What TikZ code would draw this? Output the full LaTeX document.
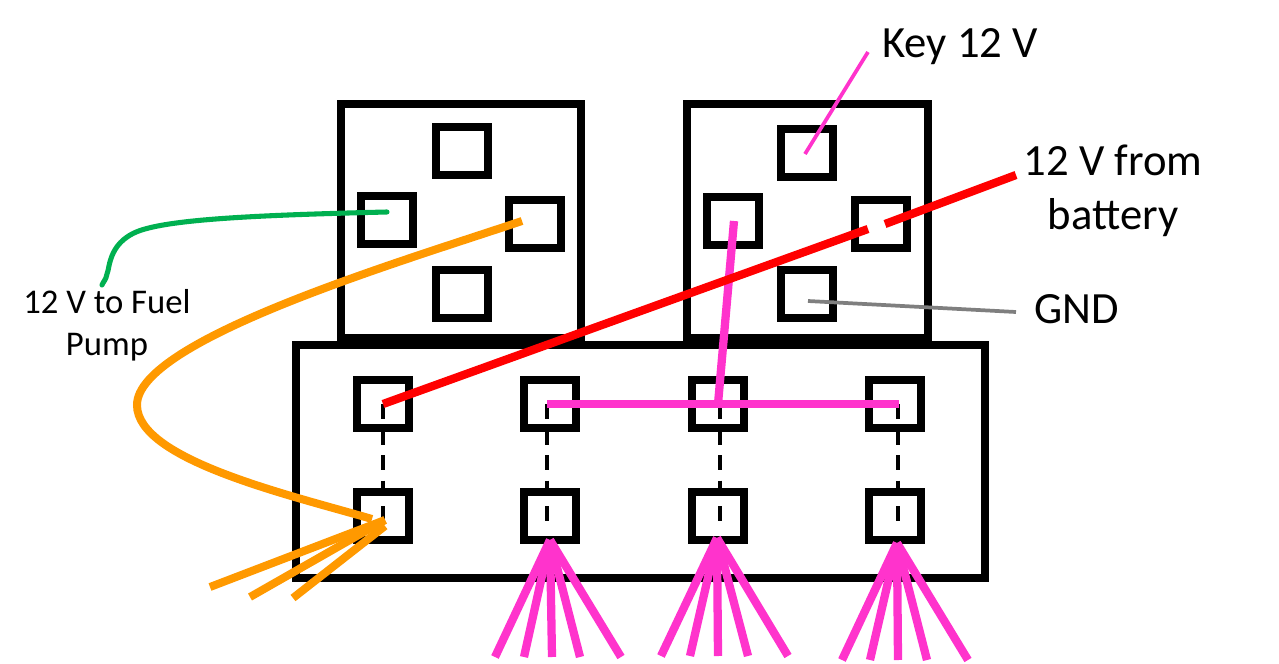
\documentclass[tikz,border=0pt]{standalone}
\usepackage{fontspec}
\setmainfont{Carlito}
\definecolor{wirepink}{HTML}{FF33CC}
\definecolor{wirered}{HTML}{FF0000}
\definecolor{wiregreen}{HTML}{00B050}
\definecolor{wireorange}{HTML}{FF9900}
\definecolor{wiregray}{HTML}{7F7F7F}
\tikzset{
  housing/.style={draw=black,line width=5.8pt,fill=none,inner sep=0pt,outer sep=0pt},
  pin/.style={draw=black,line width=5.8pt,fill=none,inner sep=0pt,outer sep=0pt,minimum width=39pt,minimum height=36pt},
  link/.style={draw=black,line width=2.6pt,dash pattern=on 11.25pt off 7.9pt},
  pinkwire/.style={draw=wirepink,line width=6.2pt},
  redwire/.style={draw=wirered,line width=6.2pt},
  orangewire/.style={draw=wireorange,line width=6pt},
  biglabel/.style={font=\fontsize{33.5}{40}\selectfont,anchor=base,inner sep=0pt},
  smalllabel/.style={font=\fontsize{26}{31}\selectfont,anchor=base,inner sep=0pt}
}
\begin{document}
\begin{tikzpicture}[x=0.75pt,y=-0.75pt]
\useasboundingbox (0,0) rectangle (1279,664);
% housings
\node[housing,minimum width=180pt,minimum height=175.5pt] (relayA) at (461,221) {};
\node[housing,minimum width=180.75pt,minimum height=175.5pt] (relayB) at (807.5,221) {};
\node[housing,minimum width=516.75pt,minimum height=174.75pt] (fuse) at (640.5,461.5) {};
% relay pins
\node[pin] (a1) at (462,151) {};
\node[pin] (a2) at (387,220) {};
\node[pin] (a3) at (535,224) {};
\node[pin] (a4) at (462,294) {};
\node[pin] (b1) at (807,153) {};
\node[pin] (b2) at (733,221) {};
\node[pin] (b3) at (881,224) {};
\node[pin] (b4) at (807,294) {};
% fuse pins
\node[pin] (u1) at (383,404) {};
\node[pin] (u2) at (550,404) {};
\node[pin] (u3) at (718,404) {};
\node[pin] (u4) at (895,404) {};
\node[pin] (l1) at (383,516) {};
\node[pin] (l2) at (550,516) {};
\node[pin] (l3) at (718,516) {};
\node[pin] (l4) at (895,516) {};
% labels
\node[biglabel] (keylab) at (960,57) {Key 12 V};
\node[biglabel] (battlab1) at (1113,175) {12 V from};
\node[biglabel] (battlab2) at (1113,229) {battery};
\node[biglabel] (gndlab) at (1077,323) {GND};
\node[smalllabel] (fplab1) at (107,313) {12 V to Fuel};
\node[smalllabel] (fplab2) at (107,355) {Pump};
% connector ends
\coordinate (d1a) at (383,404); \coordinate (d1b) at (383,521);
\coordinate (d2a) at (547,404); \coordinate (d2b) at (547,521);
\coordinate (d3a) at (720,404); \coordinate (d3b) at (720,521);
\coordinate (d4a) at (898,404); \coordinate (d4b) at (898,521);
\coordinate (keyend) at (868,52); \coordinate (keypin) at (805,154);
\coordinate (gndend) at (1016,312); \coordinate (gndpin) at (808,301);
\coordinate (battend) at (1016,175); \coordinate (battin) at (885,224);
\coordinate (battout) at (868,229); \coordinate (redpin) at (383,404);
\coordinate (jpA) at (734,221); \coordinate (jpB) at (718,404);
\coordinate (busA) at (547,404); \coordinate (busB) at (899,404);
\coordinate (gA) at (387,212); \coordinate (gB) at (102,285);
\coordinate (oA) at (522,221); \coordinate (oM) at (137,405); \coordinate (oB) at (372,519);
\coordinate (f1) at (550,540); \coordinate (f2) at (717,538); \coordinate (f3) at (897,543);
% links
\draw[link] (d1a) -- (d1b);
\draw[link] (d2a) -- (d2b);
\draw[link] (d3a) -- (d3b);
\draw[link] (d4a) -- (d4b);
% thin leaders
\draw[wirepink,line width=2.8pt] (keypin) -- (keyend);
\draw[wiregray,line width=2.8pt] (gndpin) -- (gndend);
% green
\draw[wiregreen,line width=3.8pt,line cap=round] (gA) .. controls (260,215) and (180,219) .. (145,229) .. controls (108,239) and (110,268) .. (107,274) .. controls (106,280) and (103,282) .. (gB);
% orange
\draw[orangewire] (oA) .. controls (400,262) and (137,340) .. (oM) .. controls (137,460) and (290,495) .. (oB);
\coordinate (o0) at (385,520); \coordinate (o0b) at (385,526);
\coordinate (o1) at (210,587); \coordinate (o2) at (250,597); \coordinate (o3) at (293,598);
\draw[orangewire] (o0) -- (o1);
\draw[orangewire] (o0) -- (o2);
\draw[orangewire] (o0b) -- (o3);
% pink
\draw[pinkwire] (jpA) -- (jpB);
\draw[pinkwire] (busA) -- (busB);
\foreach \a/\p in {f1/495,f1/524,f1/552,f1/580,f1/621}{\coordinate (e) at (\p,657); \draw[pinkwire] (\a) -- (e);}
\foreach \a/\p in {f2/661,f2/690,f2/718,f2/748,f2/788}{\coordinate (e) at (\p,656); \draw[pinkwire] (\a) -- (e);}
\foreach \a/\p in {f3/842,f3/870,f3/898,f3/927,f3/968}{\coordinate (e) at (\p,660); \draw[pinkwire] (\a) -- (e);}
% red
\draw[redwire] (redpin) -- (battout);
\draw[redwire] (battin) -- (battend);
\end{tikzpicture}
\end{document}
